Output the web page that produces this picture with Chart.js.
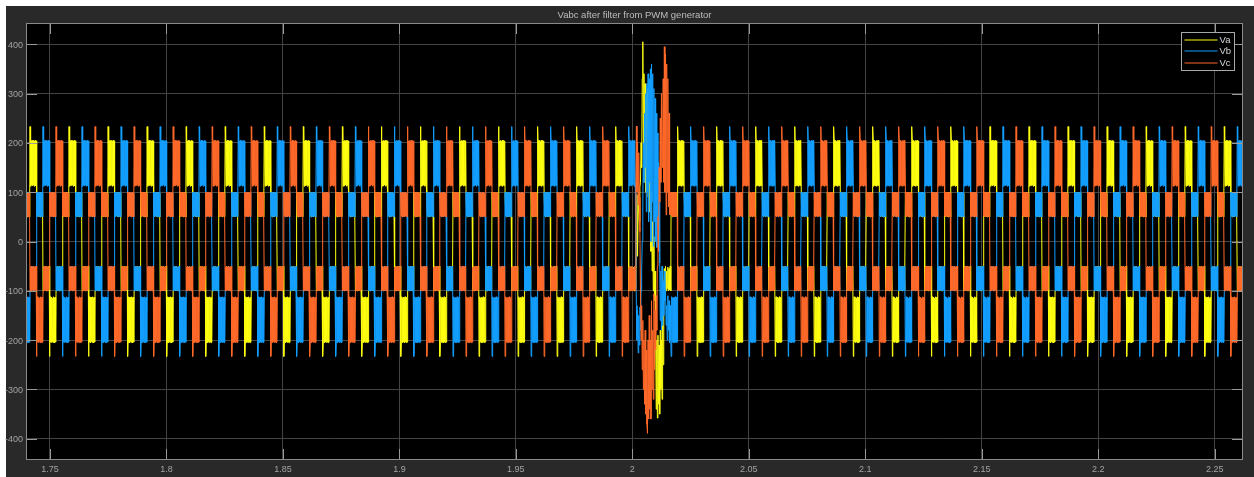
<!DOCTYPE html>
<html>
<head>
<meta charset="utf-8">
<script src="https://cdn.jsdelivr.net/npm/chart.js@4.4.1/dist/chart.umd.min.js"></script>
<style>
  html, body { margin: 0; padding: 0; background: #ffffff; }
  #scope { display: block; }
</style>
</head>
<body>
<canvas id="scope" width="1254" height="477"></canvas>
<script>
// ---- text, axes ----
const chartTitle = 'Vabc after filter from PWM generator';
const seriesNames = ['Va', 'Vb', 'Vc'];
const seriesColors = ['#FFFF11', '#139FFF', '#FF6929'];
const xTicks = [1.75, 1.8, 1.85, 1.9, 1.95, 2, 2.05, 2.1, 2.15, 2.2, 2.25];
const yTicks = [-400, -300, -200, -100, 0, 100, 200, 300, 400];
const xRange = [1.7397, 2.26216];
const yRange = [-443, 443];

// ---- steady-state waveform: one fundamental cycle in six 60-degree steps (V) ----
const stepsVa = [100, 200, 100, -100, -200, -100];
const stepsVb = [-200, -100, 100, 200, 100, -100];
const stepsVc = [100, -100, -200, -100, 100, 200];
const cyclePeriod = 0.016763;       // s
const cycleStartBefore = 1.738625;  // first cycle before the disturbance
const cycleStartAfter = 2.016651;   // cycle grid after the disturbance

// switching ripple seen inside one step (samples across the step)
const ripple200 = [233, 205, 112, 204, 114, 205, 113, 203, 115, 205, 112, 204, 114, 205, 113, 204];
const ripple100 = [100, 52, 99, 50, 100, 53, 98, 51, 100, 50, 99, 52, 100, 51, 98, 50];

// ---- disturbance at t = 2 s, sampled every burstStep seconds ----
const disturbanceStart = 2.0;
const burstStep = 0.00025;
const burstVa = [-55, -98, -52, -100, -60, -95,
  -90, 20, 95, -30, 60, 100, 40, 110,
  120, 200, 150, 330, 405, 200,
  340, 120, 320, 100, 300, 150, 310, 90, 280, 60,
  240, 100, -20, 80, -60, 40, -100, 10, -120, -60,
  -180, -340, -200, -358, -190, -330, -210, -350, -180, -300, -200, -320, -150, -250,
  -100, -55, -98, -50, -100, -60, -95, -52, -100, -55, -98, -50, -100];
const burstVb = [205, 115, 204, 112, 205, 120,
  -50, -130, -200, -140, -226, -150, -210, -133, -180, -100, -60, 0,
  80, 200, 120, 260, 150,
  300, 60, 320, 100, 340, 40, 330, 120, 350, 0, 360, 80, 340, -10, 310, 40, 290, 0, 260, -12, 220, 30, 160, 120,
  -44, -160, -60, -180, -50, -170, -80, -150, -60, -120, -100, -170, -130, -200, -110, -180, -120, -205, -130, -200];
const burstVc = [-52, -100, -55, -98, -50, -100,
  80, 234, 100, 200, 74, 180, 90, 20,
  -106, -200, -130, -260, -160, -300, -200, -330, -180, -350, -220, -370, -389, -200, -360, -150, -340, -200, -360, -120, -300, -180, -320, -106, -260, -140, -220, -110, -180,
  -50, 50, -20, 150, 80, 250, 120, 300, 150,
  200, 330, 120, 395, 100, 380, 54, 360, 100, 330, 70, 260,
  54, 100, 55];

// ---- build the point tables ----
function stepSamples(level) {
  const base = Math.abs(level) >= 200 ? ripple200 : ripple100;
  return level > 0 ? base : base.map(v => -v);
}

function buildSeries(steps, burst) {
  const pts = [];
  const stepDur = cyclePeriod / steps.length;
  const addCycles = (first, from, to) => {
    for (let k = 0; first + k * cyclePeriod < to; k++) {
      const c = first + k * cyclePeriod;
      steps.forEach((lvl, s) => {
        const samples = stepSamples(lvl);
        const dt = stepDur / samples.length;
        samples.forEach((v, j) => {
          const t = c + s * stepDur + j * dt;
          if (t >= from && t < to) pts.push({ x: t, y: v });
        });
      });
    }
  };
  addCycles(cycleStartBefore, cycleStartBefore, disturbanceStart);
  burst.forEach((v, i) => pts.push({ x: disturbanceStart + i * burstStep, y: v }));
  addCycles(cycleStartAfter, cycleStartAfter, xRange[1] + stepDur);
  return pts;
}

const seriesData = [
  buildSeries(stepsVa, burstVa),
  buildSeries(stepsVb, burstVb),
  buildSeries(stepsVc, burstVc)
];

// ---- scope look: black axes, inner tick marks, frame, title, legend ----
const FONT = '"Liberation Sans", Arial, sans-serif';
const scopeLook = {
  id: 'scopeLook',
  beforeDraw(chart) {
    const { ctx, width, height, chartArea: a } = chart;
    ctx.save();
    ctx.fillStyle = '#ffffff';
    ctx.fillRect(0, 0, width, height);
    ctx.fillStyle = '#292929';
    ctx.fillRect(6, 6, width - 6, height - 6);
    ctx.fillStyle = '#000000';
    ctx.fillRect(a.left, a.top, a.right - a.left, a.bottom - a.top);
    ctx.restore();
  },
  afterDatasetsDraw(chart) {
    const { ctx, chartArea: a, scales } = chart;
    const xs = scales.x, ys = scales.y;
    ctx.save();

    // tick marks pointing inwards on all four sides
    ctx.strokeStyle = '#9a9a9a';
    ctx.lineWidth = 1;
    ctx.beginPath();
    xTicks.forEach(v => {
      const px = Math.round(xs.getPixelForValue(v)) + 0.5;
      ctx.moveTo(px, a.top); ctx.lineTo(px, a.top + 11);
      ctx.moveTo(px, a.bottom); ctx.lineTo(px, a.bottom - 11);
    });
    yTicks.forEach(v => {
      const py = Math.round(ys.getPixelForValue(v)) + 0.5;
      ctx.moveTo(a.left, py); ctx.lineTo(a.left + 11, py);
      ctx.moveTo(a.right, py); ctx.lineTo(a.right - 11, py);
    });
    ctx.stroke();

    // frame
    ctx.strokeStyle = '#8a8a8a';
    ctx.strokeRect(a.left + 0.5, a.top + 0.5, a.right - a.left - 1, a.bottom - a.top - 1);

    // tick labels
    ctx.fillStyle = '#a3a3a3';
    ctx.font = '9px ' + FONT;
    ctx.textAlign = 'center';
    ctx.textBaseline = 'middle';
    xTicks.forEach(v => {
      ctx.fillText(String(v), xs.getPixelForValue(v), a.bottom + 9.5);
    });
    ctx.textAlign = 'right';
    yTicks.forEach(v => {
      ctx.fillText(String(v), a.left - 3, ys.getPixelForValue(v) + 1);
    });

    // title
    ctx.fillStyle = '#bdbdbd';
    ctx.font = '9.5px ' + FONT;
    ctx.textAlign = 'center';
    ctx.fillText(chartTitle, (a.left + a.right) / 2, 15);

    // legend box in the upper right corner of the axes
    const bw = 53, bh = 38;
    const bx = Math.round(a.right - 9 - bw) + 0.5, by = Math.round(a.top + 9) + 0.5;
    ctx.fillStyle = '#000000';
    ctx.fillRect(bx, by, bw, bh);
    ctx.strokeStyle = '#a8a8a8';
    ctx.strokeRect(bx, by, bw, bh);
    ctx.font = '9.5px ' + FONT;
    ctx.textAlign = 'left';
    chart.data.datasets.forEach((ds, i) => {
      const ry = Math.round(by + 7 + i * 11.7);
      ctx.strokeStyle = ds.borderColor;
      ctx.lineWidth = 1.2;
      ctx.beginPath();
      ctx.moveTo(bx + 3, ry); ctx.lineTo(bx + 36, ry);
      ctx.stroke();
      ctx.fillStyle = '#d8d8d8';
      ctx.fillText(ds.label, bx + 38, ry + 0.5);
    });
    ctx.restore();
  }
};

new Chart(document.getElementById('scope'), {
  type: 'line',
  data: {
    datasets: seriesNames.map((name, i) => ({
      label: name,
      data: seriesData[i],
      borderColor: seriesColors[i],
      backgroundColor: seriesColors[i],
      borderWidth: 1,
      pointRadius: 0,
      tension: 0,
      fill: false,
      order: seriesNames.length - i
    }))
  },
  options: {
    responsive: false,
    animation: false,
    events: [],
    parsing: false,
    normalized: true,
    layout: { padding: { left: 0, top: 23, right: 11, bottom: 0 } },
    plugins: {
      legend: { display: false },
      tooltip: { enabled: false },
      title: { display: false }
    },
    scales: {
      x: {
        type: 'linear',
        min: xRange[0],
        max: xRange[1],
        afterBuildTicks: s => { s.ticks = xTicks.map(v => ({ value: v })); },
        afterFit: s => { s.height = 17; },
        ticks: { display: false },
        grid: { color: '#444444', lineWidth: 1, drawTicks: false },
        border: { display: false }
      },
      y: {
        type: 'linear',
        min: yRange[0],
        max: yRange[1],
        afterBuildTicks: s => { s.ticks = yTicks.map(v => ({ value: v })); },
        afterFit: s => { s.width = 26; },
        ticks: { display: false },
        grid: { color: '#444444', lineWidth: 1, drawTicks: false },
        border: { display: false }
      }
    }
  },
  plugins: [scopeLook]
});
</script>
</body>
</html>
